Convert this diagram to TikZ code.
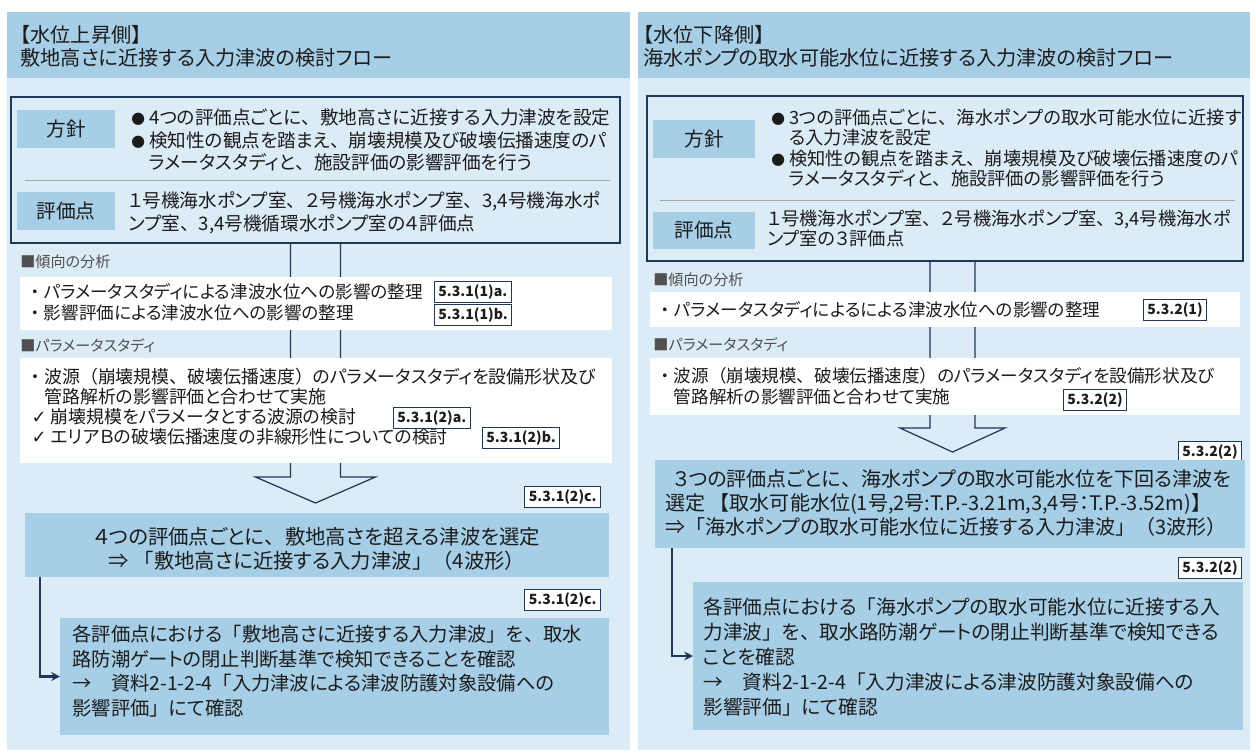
\documentclass[tikz,border=0pt]{standalone}
\usepackage{fontspec}
\setmainfont{Noto Sans CJK JP}[CharacterWidth=AlternateProportional]
\newfontfamily\fw{Noto Sans CJK JP}
\newfontfamily\symfont{DejaVu Sans}
\usepackage{tikz}
\usetikzlibrary{positioning}
\usetikzlibrary{arrows.meta}
\usepackage{xcolor}

\definecolor{panelbg}{RGB}{220,236,246}
\definecolor{bandblue}{RGB}{166,206,230}
\definecolor{navy}{RGB}{31,56,90}
\definecolor{ink}{RGB}{28,28,28}
\definecolor{seclabel}{RGB}{80,80,80}
\newcommand{\pxu}{0.02cm}
\newcommand{\fTitle}{\fontsize{11.5}{13}\selectfont}
\newcommand{\fBody}{\fontsize{10.6}{13}\selectfont}
\newcommand{\fLab}{\fontsize{11.2}{13}\selectfont}
\newcommand{\fWhite}{\fontsize{10}{11.8}\selectfont}
\newcommand{\fSec}{\fontsize{8.6}{10}\selectfont}
\newcommand{\fTag}{\fontsize{8}{9.5}\selectfont\bfseries}
\newcommand{\fBig}{\fontsize{11.6}{13.6}\selectfont}
\newcommand{\chk}{{\symfont\char"2713}}
\newcommand{\bul}{{\fontsize{7.8}{7.8}\selectfont ●}}
\newcommand{\jten}{{\fw 、}}
\newcommand{\jlk}{{\fw 「}}
\newcommand{\jrk}{{\fw 」}}
\newcommand{\jlp}{{\fw （}}
\newcommand{\jrp}{{\fw ）}}
\newcommand{\jlb}{{\fw 【}}
\newcommand{\jrb}{{\fw 】}}
\newcommand{\jdot}{{\fw ・}}

\begin{document}
\begin{tikzpicture}[x=0.02cm, y=-0.02cm,
  box/.style={anchor=north west, inner sep=0pt, outer sep=0pt},
  lab/.style={box, fill=bandblue, font=\fLab, text=ink},
  txt/.style={anchor=west, align=left, inner sep=0pt, text=ink},
  sec/.style={anchor=west, inner sep=0pt, text=seclabel, font=\fSec},
  tag/.style={anchor=west, draw=navy, fill=white, line width=0.6pt, font=\fTag, text=ink, inner xsep=2.2pt, inner ysep=2pt},
  shaft/.style={navy, line width=0.7pt, line join=miter},
  conn/.style={navy, line width=1.4pt, -{Stealth[length=5pt,width=5pt]}},
  sepline/.style={gray!70, line width=0.4pt}]
\useasboundingbox (0,0) rectangle (1256,754);

% left panel
\node[box, fill=panelbg, minimum width=623*\pxu, minimum height=738*\pxu] (bgL) at (7,12) {};
\node[box, fill=bandblue, minimum width=623*\pxu, minimum height=66*\pxu] (bandL) at (7,12) {};
\node[txt, font=\fTitle] (titleL) at (20,46) {【水位上昇側】\\敷地高さに近接する入力津波の検討フロー};

\node[box, draw=navy, line width=0.8pt, minimum width=609*\pxu, minimum height=146*\pxu] (polL) at (11,97) {};
\node[lab, minimum width=98*\pxu, minimum height=38*\pxu] (hoshinL) at (17,110) {方針};
\node[txt, font=\fBody] (hoshinLtxt) at (131,140) {\bul\ 4つの評価点ごとに\jten 敷地高さに近接する入力津波を設定\\\bul\ 検知性の観点を踏まえ\jten 崩壊規模及び破壊伝播速度のパ\\\phantom{\bul\ }ラメータスタディと\jten 施設評価の影響評価を行う};
\draw[sepline] (25,180) -- (610,180);
\node[lab, minimum width=98*\pxu, minimum height=38*\pxu] (hyokaL) at (17,192) {評価点};
\node[txt, font=\fBody] (hyokaLtxt) at (128,212.5) {１号機海水ポンプ室\jten ２号機海水ポンプ室\jten 3,4号機海水ポ\\ンプ室\jten 3,4号機循環水ポンプ室の４評価点};

\draw[shaft] ([xshift=-0.5cm]polL.south) -- ++(0,234) -- ++(-35,0) -- ++(60,26) -- ++(60,-26) -- ++(-35,0) -- ([xshift=0.5cm]polL.south);

\node[sec] (secL1) at (20,262) {■傾向の分析};
\node[box, fill=white, minimum width=592*\pxu, minimum height=53*\pxu] (trendL) at (20,277) {};
\node[txt, font=\fWhite] (trendLtxt) at (26,302.5) {\jdot パラメータスタディによる津波水位への影響の整理\\\jdot 影響評価による津波水位への影響の整理};
\node[tag] (tagLa) at (434,292) {5.3.1(1)a.};
\node[tag] (tagLb) at (434,315) {5.3.1(1)b.};

\node[sec] (secL2) at (20,346) {■パラメータスタディ};
\node[box, fill=white, minimum width=592*\pxu, minimum height=105*\pxu] (paramL) at (20,358) {};
\node[txt, font=\fontsize{10.2}{11.3}\selectfont] (paramLtxt) at (26,406.5) {\jdot 波源\jlp 崩壊規模\jten 破壊伝播速度\jrp のパラメータスタディを設備形状及び\\\hspace{1em}管路解析の影響評価と合わせて実施\\\hspace{0.3em}\chk\ 崩壊規模をパラメータとする波源の検討\\\hspace{0.3em}\chk\ エリアＢの破壊伝播速度の非線形性についての検討};
\node[tag] (tagL2a) at (393,418) {5.3.1(2)a.};
\node[tag] (tagL2b) at (482,438) {5.3.1(2)b.};

\node[tag, anchor=east] (tagL2c) at (601,497) {5.3.1(2)c.};
\node[box, fill=bandblue, minimum width=584*\pxu, minimum height=64*\pxu] (selL) at (25,513) {};
\node[font=\fBig, align=center, text=ink, inner sep=0pt] (selLtxt) at (317,549) {４つの評価点ごとに\jten 敷地高さを超える津波を選定\\⇒ \jlk 敷地高さに近接する入力津波\jrk\jlp 4波形\jrp};

\node[tag, anchor=east] (tagL2d) at (601,600) {5.3.1(2)c.};
\node[box, fill=bandblue, minimum width=549*\pxu, minimum height=117*\pxu] (chkL) at (60,618) {};
\node[txt, font=\fontsize{11}{14}\selectfont] (chkLtxt) at (72,671) {各評価点における\jlk 敷地高さに近接する入力津波\jrk を\jten 取水\\路防潮ゲートの閉止判断基準で検知できることを確認\\→　資料2-1-2-4\jlk 入力津波による津波防護対象設備への\\影響評価\jrk にて確認};
\draw[conn] ([xshift=0.3cm]selL.south west) |- (chkL.west);

% right panel
\node[box, fill=panelbg, minimum width=612*\pxu, minimum height=738*\pxu] (bgR) at (638,12) {};
\node[box, fill=bandblue, minimum width=612*\pxu, minimum height=66*\pxu] (bandR) at (638,12) {};
\node[txt, font=\fTitle] (titleR) at (643,46) {【水位下降側】\\海水ポンプの取水可能水位に近接する入力津波の検討フロー};

\node[box, draw=navy, line width=0.8pt, minimum width=596*\pxu, minimum height=165*\pxu] (polR) at (647,96) {};
\node[lab, minimum width=102*\pxu, minimum height=38*\pxu] (hoshinR) at (653,120) {方針};
\node[txt, font=\fontsize{10.4}{11.4}\selectfont] (hoshinRtxt) at (771,148) {\bul\ 3つの評価点ごとに\jten 海水ポンプの取水可能水位に近接す\\\phantom{\bul\ }る入力津波を設定\\\bul\ 検知性の観点を踏まえ\jten 崩壊規模及び破壊伝播速度のパ\\\phantom{\bul\ }ラメータスタディと\jten 施設評価の影響評価を行う};
\draw[sepline] (660,200) -- (1235,200);
\node[lab, minimum width=102*\pxu, minimum height=37*\pxu] (hyokaR) at (653,212) {評価点};
\node[txt, font=\fontsize{10.4}{11.4}\selectfont] (hyokaRtxt) at (767,228) {１号機海水ポンプ室\jten ２号機海水ポンプ室\jten 3,4号機海水ポ\\ンプ室の３評価点};

\draw[shaft] ([xshift=-0.3cm]polR.south) -- ++(0,167) -- ++(-30,0) -- ++(52.5,24) -- ++(52.5,-24) -- ++(-30,0) -- ([xshift=0.6cm]polR.south);

\node[sec] (secR1) at (653,280) {■傾向の分析};
\node[box, fill=white, minimum width=590*\pxu, minimum height=35*\pxu] (trendR) at (650,292) {};
\node[txt, font=\fWhite] (trendRtxt) at (656,310) {\jdot パラメータスタディによるによる津波水位への影響の整理};
\node[tag, anchor=east] (tagR1) at (1207,310) {5.3.2(1)};

\node[sec] (secR2) at (653,345) {■パラメータスタディ};
\node[box, fill=white, minimum width=590*\pxu, minimum height=57*\pxu] (paramR) at (650,358) {};
\node[txt, font=\fWhite] (paramRtxt) at (656,386) {\jdot 波源\jlp 崩壊規模\jten 破壊伝播速度\jrp のパラメータスタディを設備形状及び\\\hspace{1em}管路解析の影響評価と合わせて実施};
\node[tag] (tagR2) at (1063,400) {5.3.2(2)};

\node[tag, anchor=east] (tagR3) at (1242,452) {5.3.2(2)};
\node[box, fill=bandblue, minimum width=590*\pxu, minimum height=88*\pxu] (selR) at (655,460) {};
\node[txt, font=\fontsize{11.4}{13.6}\selectfont] (selRtxt) at (665,503) {\hspace{0.4em}３つの評価点ごとに\jten 海水ポンプの取水可能水位を下回る津波を\\選定 \jlb 取水可能水位(1号,2号:T.P.-3.21m,3,4号：T.P.-3.52m)\jrb\\⇒\jlk 海水ポンプの取水可能水位に近接する入力津波\jrk\jlp 3波形\jrp};

\node[tag, anchor=east] (tagR4) at (1242,568) {5.3.2(2)};
\node[box, fill=bandblue, minimum width=550*\pxu, minimum height=148*\pxu] (chkR) at (693,582) {};
\node[txt, font=\fontsize{11.2}{14.2}\selectfont] (chkRtxt) at (703,657) {各評価点における\jlk 海水ポンプの取水可能水位に近接する入\\力津波\jrk を\jten 取水路防潮ゲートの閉止判断基準で検知できる\\ことを確認\\→　資料2-1-2-4\jlk 入力津波による津波防護対象設備への\\影響評価\jrk にて確認};
\draw[conn] ([xshift=0.34cm]selR.south west) |- (chkR.west);
\end{tikzpicture}
\end{document}
